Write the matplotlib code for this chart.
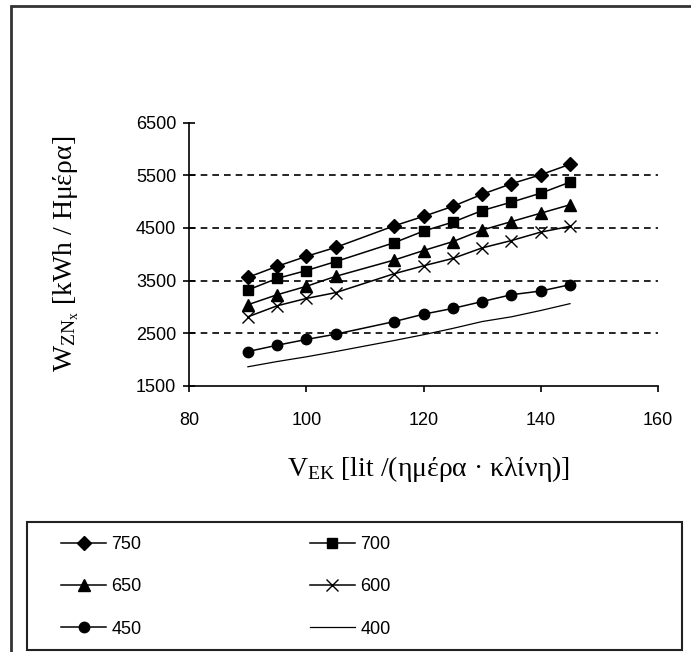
import matplotlib
matplotlib.use("Agg")
import matplotlib.pyplot as plt
from matplotlib.patches import Rectangle

plt.rcParams["font.family"] = "Liberation Sans"
plt.rcParams["mathtext.fontset"] = "custom"
plt.rcParams["mathtext.rm"] = "Liberation Serif"
plt.rcParams["mathtext.it"] = "Liberation Serif"

# daily water volume per bed (x) and energy per day for each case
v_ek = [90, 95, 100, 105, 115, 120, 125, 130, 135, 140, 145]
w_750 = [3560, 3770, 3960, 4130, 4540, 4720, 4910, 5140, 5340, 5510, 5710]
w_700 = [3320, 3540, 3690, 3860, 4220, 4440, 4610, 4830, 4990, 5160, 5370]
w_650 = [3040, 3230, 3390, 3580, 3890, 4070, 4240, 4460, 4620, 4780, 4940]
w_600 = [2810, 3020, 3160, 3270, 3630, 3780, 3920, 4120, 4260, 4420, 4530]
w_450 = [2150, 2270, 2380, 2480, 2720, 2860, 2970, 3100, 3230, 3300, 3420]
w_400 = [1860, 1960, 2050, 2150, 2360, 2470, 2590, 2720, 2810, 2930, 3060]

series_labels = ["750", "700", "650", "600", "450", "400"]
x_ticks = [80, 100, 120, 140, 160]
y_ticks = [1500, 2500, 3500, 4500, 5500, 6500]

fig = plt.figure(figsize=(6.91, 6.52), dpi=100)
ax = fig.add_axes([0.274, 0.4084, 0.678, 0.4034])

# dashed horizontal grid lines
for yv in y_ticks[1:-1]:
    ax.axhline(yv, color="black", lw=1.2, ls=(0, (4, 3)), zorder=1)

common = dict(color="black", lw=1.1, zorder=3)
h750, = ax.plot(v_ek, w_750, marker="D", ms=7.5, label=series_labels[0], **common)
h700, = ax.plot(v_ek, w_700, marker="s", ms=7.5, label=series_labels[1], **common)
h650, = ax.plot(v_ek, w_650, marker="^", ms=8.5, label=series_labels[2], **common)
h600, = ax.plot(v_ek, w_600, marker="x", ms=9, mew=1, label=series_labels[3], **common)
h450, = ax.plot(v_ek, w_450, marker="o", ms=7.5, label=series_labels[4], **common)
h400, = ax.plot(v_ek, w_400, color="black", lw=0.9, label=series_labels[5], zorder=3)

ax.set_xlim(80, 160)
ax.set_ylim(1500, 6500)
ax.set_xticks(x_ticks)
ax.set_yticks(y_ticks)
ax.spines["top"].set_visible(False)
ax.spines["right"].set_visible(False)
for s in ("left", "bottom"):
    ax.spines[s].set_linewidth(1.2)
ax.tick_params(axis="y", direction="inout", length=9, width=1.2, pad=5, labelsize=13)
ax.tick_params(axis="x", direction="out", length=4, width=1.2, pad=15, labelsize=13)

ax.set_ylabel(r"$\mathrm{W_{ZN_x}}$ [kWh / Hμέρα]", family="Liberation Serif",
              fontsize=20, va="center")
ax.yaxis.set_label_coords(-0.262, 0.5)
ax.set_xlabel(r"$\mathrm{V_{EK}}$ [lit /(ημέρα · κλίνη)]", family="Liberation Serif",
              fontsize=20, va="center")
ax.xaxis.set_label_coords(0.51, -0.315)

# legend: rows 750/700, 650/600, 450/400 (columns filled first)
handles = [h750, h650, h450, h700, h600, h400]
labels = [h.get_label() for h in handles]
fig.legend(handles, labels, loc="upper left", bbox_to_anchor=(61 / 691, 1 - 536 / 652),
           ncol=2, fontsize=13, frameon=False, handlelength=2.5, handletextpad=0.3,
           labelspacing=1.4, columnspacing=9.3, borderpad=0, borderaxespad=0)
fig.patches.append(Rectangle((26.7 / 691, 1 - 650 / 652), 655 / 691, 128 / 652,
                             transform=fig.transFigure, fill=False,
                             edgecolor="#222222", lw=1.5))

# outer frame of the picture
fig.patches.append(Rectangle((11 / 691, -0.05), 1.1, 1.05 - 6 / 652,
                             transform=fig.transFigure, fill=False,
                             edgecolor="#333333", lw=2))

fig.savefig("out.png", dpi=100)
